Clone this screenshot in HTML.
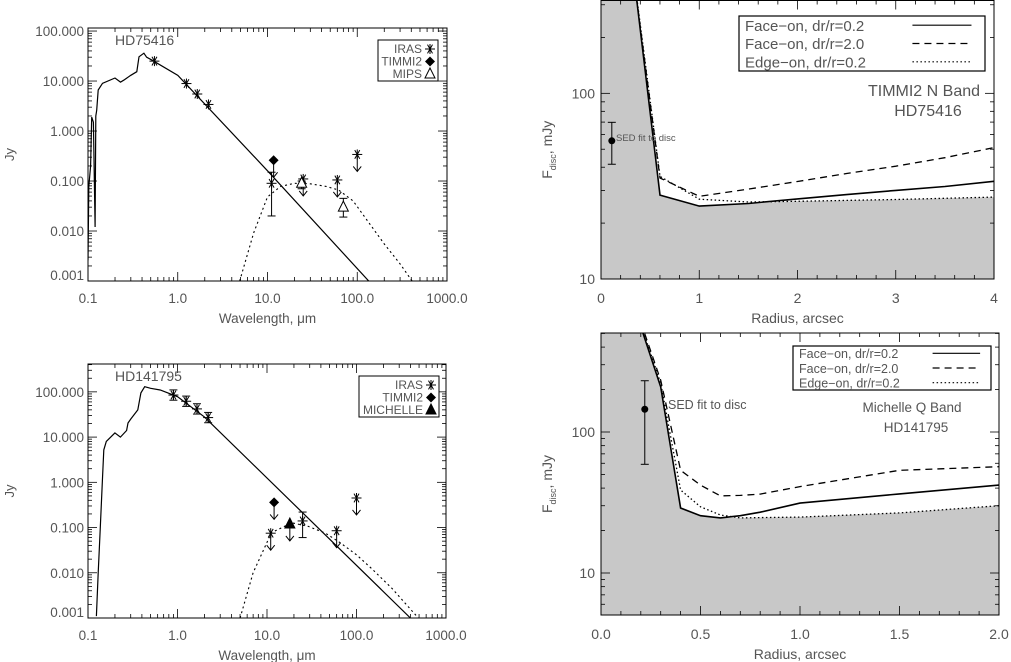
<!DOCTYPE html>
<html><head><meta charset="utf-8"><style>
html,body{margin:0;padding:0;background:#fff;}
svg{display:block;font-family:"Liberation Sans",sans-serif;}
text{fill:#555;}
</style></head><body>
<svg id="fig" width="1011" height="662" viewBox="0 0 1011 662" xmlns="http://www.w3.org/2000/svg"></svg>
<script>
// ---------- Panel 1 data (HD75416 SED) ----------
const p1StarWl   = [0.1,0.102,0.107,0.11,0.115,0.12,0.122,0.125,0.13,0.145,0.2,0.23,0.25,0.3,0.35,0.37,0.42,0.45,0.52,1.0,10,134];
const p1StarFlux = [0.0026,0.077,0.2,1.9,1.5,0.012,2.0,2.6,6.6,9,11.5,9.5,10.4,13,15.4,30.5,36,30,26,13,0.16,0.001];
const p1DiscWl   = [4.9,7,10,14,20,30,45,62,90,128,200,300,408];
const p1DiscFlux = [0.001,0.0091,0.048,0.078,0.09,0.088,0.078,0.066,0.04,0.0166,0.0055,0.0022,0.001];
const p1OptWl    = [0.55,1.25,1.65,2.2];
const p1OptFlux  = [25,8.9,5.5,3.4];
const p1IrasWl   = [11.1,25,60,100];
const p1IrasFlux = [0.09,0.11,0.105,0.34];
const p1IrasLim  = [false,true,true,true];
const p1TimWl    = [11.7];
const p1TimFlux  = [0.26];
const p1MipsWl   = [24,70];
const p1MipsFlux = [0.09,0.03];
const p1MipsLo   = [0.07,0.019];
const p1MipsHi   = [0.1,0.045];
// ---------- Panel 3 data (HD141795 SED) ----------
const p3StarWl   = [0.124,0.13,0.137,0.145,0.15,0.16,0.2,0.23,0.27,0.28,0.3,0.36,0.39,0.43,0.5,0.64,1.0,2.0,400];
const p3StarFlux = [0.0011,0.01,0.09,1.1,5.2,8,12.4,10,14,20.5,25,40,95,130,120,110,78,28,0.001];
const p3DiscWl   = [5,7,11.2,19,29,45,66,100,150,250,490];
const p3DiscFlux = [0.001,0.01,0.077,0.127,0.106,0.075,0.046,0.025,0.012,0.0045,0.001];
const p3OptWl    = [0.9,1.25,1.65,2.2];
const p3OptFlux  = [85,62,42,27];
const p3IrasWl   = [11,25,60,100];
const p3IrasFlux = [0.075,0.14,0.085,0.45];
const p3IrasLim  = [true,false,true,true];
const p3TimWl    = [12];
const p3TimFlux  = [0.36];
const p3MichWl   = [18];
const p3MichFlux = [0.12];
// ---------- Panel 2 data (TIMMI2 N band radial) ----------
const p2Radius = [0.36,0.6,1.0,1.5,2.0,2.5,3.0,3.5,4.0];
const p2Solid  = [330,28.3,24.7,25.5,27,28.5,30,31.5,33.6];
const p2Dashed = [330,35,27.9,30.5,33.5,37,40.5,45,51];
const p2Dotted = [340,35.7,26.9,26,26.2,26.5,26.8,27.2,27.6];
const p2PointR = [0.11];
const p2PointF = [55.5];
const p2PointLo= [41.5];
const p2PointHi= [69.8];
// ---------- Panel 4 data (Michelle Q band radial) ----------
const p4Radius = [0.2,0.3,0.4,0.5,0.6,0.7,0.8,1.0,1.5,2.0];
const p4Solid  = [560,209,28.9,25.5,24.6,25.5,27,31.3,36.4,42];
const p4Dashed = [600,233,53.5,42,35.2,35.5,36.3,41,53.5,56.7];
const p4Dotted = [580,222,38.8,29.5,25.8,24.6,24.7,24.9,26.7,30];
const p4PointR = [0.22];
const p4PointF = [145];
const p4PointLo= [59];
const p4PointHi= [231];

const NS='http://www.w3.org/2000/svg';
const svg=document.getElementById('fig');
function mk(tag,attrs,parent){const e=document.createElementNS(NS,tag);for(const k in attrs)e.setAttribute(k,attrs[k]);(parent||svg).appendChild(e);return e;}
const L=Math.log10;

function logScale(v0,v1,p0,p1){return v=>p0+(L(v)-L(v0))/(L(v1)-L(v0))*(p1-p0);}
function linScale(v0,v1,p0,p1){return v=>p0+(v-v0)/(v1-v0)*(p1-p0);}

function polyline(g,xs,ys,sx,sy,dash,name,w){
  const pts=xs.map((x,i)=>sx(x).toFixed(1)+','+sy(ys[i]).toFixed(1)).join(' ');
  const p=mk('polyline',{points:pts,fill:'none',stroke:'#000','stroke-width':w||1.2,'stroke-dasharray':dash||'none'},g);
  
  
  return p;
}
function text(g,x,y,s,size,anchor,name,extra){
  const t=mk('text',Object.assign({x:x,y:y,'font-size':size,'text-anchor':anchor||'start'},extra||{}),g);
  t.textContent=s;
  
  
  return t;
}
function frame(g,b){
  const r=mk('rect',{x:b.x0,y:b.y0,width:b.x1-b.x0,height:b.y1-b.y0,fill:'none',stroke:'#000','stroke-width':1},g);
  
  
}
function tick(g,x1,y1,x2,y2){mk('line',{x1:x1,y1:y1,x2:x2,y2:y2,stroke:'#000','stroke-width':0.8},g);}
function logTicksY(g,b,sy,lo,hi){
  for(let d=Math.floor(L(lo));d<=Math.ceil(L(hi));d++){for(let m=1;m<10;m++){const v=m*Math.pow(10,d);if(v<lo*0.999||v>hi*1.001)continue;const y=sy(v);const len=m==1?9:4;tick(g,b.x0,y,b.x0+len,y);tick(g,b.x1,y,b.x1-len,y);}}
}
function logTicksX(g,b,sx,lo,hi){
  for(let d=Math.floor(L(lo));d<=Math.ceil(L(hi));d++){for(let m=1;m<10;m++){const v=m*Math.pow(10,d);if(v<lo*0.999||v>hi*1.001)continue;const x=sx(v);const len=m==1?9:4;tick(g,x,b.y1,x,b.y1-len);tick(g,x,b.y0,x,b.y0+len);}}
}
function linTicksX(g,b,sx,lo,hi,step,nminor){
  const n=Math.round((hi-lo)/step*nminor);
  for(let i=0;i<=n;i++){const v=lo+i*step/nminor;const x=sx(v);const len=i%nminor==0?9:4;tick(g,x,b.y1,x,b.y1-len);tick(g,x,b.y0,x,b.y0+len);}
}
function asterisk(g,x,y,name){
  const gg=mk('g',{stroke:'#000','stroke-width':1},g);
  
  
  const r=5;
  for(const a of [0,60,120]){const c=Math.cos(a*Math.PI/180)*r,s=Math.sin(a*Math.PI/180)*r;mk('line',{x1:x-c,y1:y-s,x2:x+c,y2:y+s},gg);}
  mk('line',{x1:x,y1:y-r,x2:x,y2:y+r},gg);
}
function arrow(g,x,y){
  mk('line',{x1:x,y1:y,x2:x,y2:y+17,stroke:'#000','stroke-width':1},g);
  mk('polyline',{points:(x-4)+','+(y+12)+' '+x+','+(y+17)+' '+(x+4)+','+(y+12),fill:'none',stroke:'#000','stroke-width':1},g);
}
function errbar(g,x,y0,y1){
  mk('line',{x1:x,y1:y0,x2:x,y2:y1,stroke:'#000','stroke-width':1},g);
  mk('line',{x1:x-4,y1:y0,x2:x+4,y2:y0,stroke:'#000','stroke-width':1},g);
  mk('line',{x1:x-4,y1:y1,x2:x+4,y2:y1,stroke:'#000','stroke-width':1},g);
}
function diamond(g,x,y,name){const p=mk('polygon',{points:`${x},${y-5} ${x+5},${y} ${x},${y+5} ${x-5},${y}`,fill:'#000'},g);}
function triangle(g,x,y,fill,name){const p=mk('polygon',{points:`${x},${y-6} ${x+5},${y+4} ${x-5},${y+4}`,fill:fill,stroke:'#000','stroke-width':1},g);}

function sedPanel(id,b,ymax,title,star,disc,opt,iras,tim,extra,legendRows,legendBox){
  const g=mk('g',{});  
  const sx=logScale(0.1,1000,b.x0,b.x1), sy=logScale(0.001,ymax,b.y1,b.y0);
  const cid=id+'-clip'; const cp=mk('clipPath',{id:cid},g); mk('rect',{x:b.x0,y:b.y0,width:b.x1-b.x0,height:b.y1-b.y0},cp);
  const dg=mk('g',{'clip-path':`url(#${cid})`},g);
  polyline(dg,star[0],star[1],sx,sy,null,'photosphere-model',1.2);
  polyline(dg,disc[0],disc[1],sx,sy,'2,3','disc-model',1.1);
  opt[0].forEach((w,i)=>asterisk(dg,sx(w),sy(opt[1][i]),'optical-photometry-point'));
  if(opt[2]) opt[0].forEach((w,i)=>errbar(dg,sx(w),sy(opt[1][i]*1.3),sy(opt[1][i]/1.3)));
  iras[0].forEach((w,i)=>{const x=sx(w),y=sy(iras[1][i]);asterisk(dg,x,y,'iras-point');if(iras[2][i])arrow(dg,x,y);});
  tim[0].forEach((w,i)=>{const x=sx(w),y=sy(tim[1][i]);diamond(dg,x,y,'timmi2-point');arrow(dg,x,y);});
  extra(dg,sx,sy);
  frame(g,b);
  logTicksY(g,b,sy,0.001,ymax); logTicksX(g,b,sx,0.1,1000);
  ['0.001','0.010','0.100','1.000','10.000','100.000'].forEach((s,i)=>{let y=sy(Math.pow(10,i-3))+5; if(i==0)y=b.y1-1; text(g,b.x0-4,y,s,13.5,'end','y-tick-label');});
  ['0.1','1.0','10.0','100.0','1000.0'].forEach((s,i)=>text(g,sx(Math.pow(10,i-1)),b.y1+22,s,13.5,'middle','x-tick-label'));
  text(g,(b.x0+b.x1)/2,b.y1+42,'Wavelength, μm',13.5,'middle','x-axis-title');
  text(g,14,(b.y0+b.y1)/2,'Jy',13,'middle','y-axis-title',{transform:`rotate(-90 14 ${(b.y0+b.y1)/2})`});
  text(g,b.x0+27,b.y0+17,title,14,'start','star-name-label');
  const lb=mk('rect',{x:legendBox[0],y:legendBox[1],width:legendBox[2],height:legendBox[3],fill:'#fff',stroke:'#000','stroke-width':1},g);
   
  legendRows.forEach((r,i)=>{const y=legendBox[1]+9+i*12.5;text(g,legendBox[0]+legendBox[2]-16,y+4,r[0],12,'end','legend-entry');r[1](g,legendBox[0]+legendBox[2]-8,y);});
}

sedPanel('sed-hd75416',{x0:88,y0:28,x1:447,y1:281},115,'HD75416',
  [p1StarWl,p1StarFlux],[p1DiscWl,p1DiscFlux],[p1OptWl,p1OptFlux,false],[p1IrasWl,p1IrasFlux,p1IrasLim],[p1TimWl,p1TimFlux],
  (g,sx,sy)=>{
    errbar(g,sx(11.1),sy(0.15),sy(0.02));
    p1MipsWl.forEach((w,i)=>{errbar(g,sx(w),sy(p1MipsHi[i]),sy(p1MipsLo[i]));triangle(g,sx(w),sy(p1MipsFlux[i]),'#fff','mips-point');});
  },
  [['IRAS',(g,x,y)=>asterisk(g,x,y,'legend-iras-symbol')],['TIMMI2',(g,x,y)=>diamond(g,x,y,'legend-timmi2-symbol')],['MIPS',(g,x,y)=>triangle(g,x,y,'#fff','legend-mips-symbol')]],
  [378,40,60,41]);

sedPanel('sed-hd141795',{x0:88,y0:364,x1:446,y1:618},413,'HD141795',
  [p3StarWl,p3StarFlux],[p3DiscWl,p3DiscFlux],[p3OptWl,p3OptFlux,true],[p3IrasWl,p3IrasFlux,p3IrasLim],[p3TimWl,p3TimFlux],
  (g,sx,sy)=>{
    errbar(g,sx(25),sy(0.22),sy(0.06));
    p3MichWl.forEach((w,i)=>{const x=sx(w),y=sy(p3MichFlux[i]);triangle(g,x,y,'#000','michelle-point');arrow(g,x,y);});
  },
  [['IRAS',(g,x,y)=>asterisk(g,x,y,'legend-iras-symbol')],['TIMMI2',(g,x,y)=>diamond(g,x,y,'legend-timmi2-symbol')],['MICHELLE',(g,x,y)=>triangle(g,x,y,'#000','legend-michelle-symbol')]],
  [359,376,80,41]);

function radialPanel(id,b,xmax,xstep,nminor,yminV,ymaxV,R,S,D,T,pt,xlabels,legendBox,lfs,band,star,bandPos,sedLab){
  const g=mk('g',{});  
  const sx=linScale(0,xmax,b.x0,b.x1), sy=logScale(yminV,ymaxV,b.y1,b.y0);
  const cid=id+'-clip'; const cp=mk('clipPath',{id:cid},g); mk('rect',{x:b.x0,y:b.y0,width:b.x1-b.x0,height:b.y1-b.y0},cp);
  const dg=mk('g',{'clip-path':`url(#${cid})`},g);
  const minv=R.map((r,i)=>Math.min(S[i],D[i],T[i]));
  let pts=`${b.x0},${b.y0-5} `+R.map((r,i)=>sx(r).toFixed(1)+','+sy(minv[i]).toFixed(1)).join(' ')+` ${sx(R[R.length-1])},${b.y1} ${b.x0},${b.y1}`;
  pts=`${b.x0},${b.y0-5} ${sx(R[0])},${b.y0-5} `+pts.split(' ').slice(1).join(' ');
  const f=mk('polygon',{points:pts,fill:'#c8c8c8'},dg);  
  polyline(dg,R,D,sx,sy,'7,5','face-on-dr2-curve',1.3);
  polyline(dg,R,T,sx,sy,'1.5,2.5','edge-on-curve',1.3);
  polyline(dg,R,S,sx,sy,null,'face-on-dr02-curve',1.6);
  pt[0].forEach((r,i)=>{errbar(dg,sx(r),sy(pt[2][i]),sy(pt[1][i]));const c=mk('circle',{cx:sx(r),cy:sy(pt[3][i]),r:3.5,fill:'#000'},dg);});
  frame(g,b);
  logTicksY(g,b,sy,yminV,ymaxV); linTicksX(g,b,sx,0,xmax,xstep,nminor);
  text(g,b.x0-6,sy(10)+5,'10',14,'end','y-tick-label');
  text(g,b.x0-6,sy(100)+5,'100',14,'end','y-tick-label');
  xlabels.forEach((s,i)=>text(g,sx(i*xstep),b.y1+24,s,14,'middle','x-tick-label'));
  text(g,(b.x0+b.x1)/2,b.y1+44,'Radius, arcsec',14,'middle','x-axis-title');
  const cy=(b.y0+b.y1)/2+10;
  const yt=text(g,552,cy,'',14,'middle','y-axis-title',{transform:`rotate(-90 552 ${cy})`});
  yt.innerHTML='F<tspan font-size="9" dy="4">disc</tspan><tspan dy="-4">, mJy</tspan>';
  text(g,sedLab[0],sedLab[1],'SED fit to disc',sedLab[2],'start','sed-fit-label');
  text(g,bandPos[0],bandPos[1],band,lfs+1,'middle','band-label');
  text(g,bandPos[0]+4,bandPos[1]+20,star,lfs+1,'middle','star-name-label');
  const lb=mk('rect',{x:legendBox[0],y:legendBox[1],width:legendBox[2],height:legendBox[3],fill:'#fff',stroke:'#000','stroke-width':1.2},g);
   
  const rows=[['Face−on, dr/r=0.2',null],['Face−on, dr/r=2.0','7,5'],['Edge−on, dr/r=0.2','1.5,2.5']];
  const rh=legendBox[3]/3;
  rows.forEach((r,i)=>{const y=legendBox[1]+rh*(i+0.5);text(g,legendBox[0]+6,y+lfs*0.38,r[0],lfs,'start','legend-entry');
    const l=mk('line',{x1:legendBox[0]+legendBox[2]*0.705,y1:y,x2:legendBox[0]+legendBox[2]*0.945,y2:y,stroke:'#000','stroke-width':1.2,'stroke-dasharray':r[1]||'none'},g);
     });
}

radialPanel('radial-timmi2',{x0:601,y0:0.5,x1:994,y1:279},4,1,5,10,10*Math.pow(10,279/186),
  p2Radius,p2Solid,p2Dashed,p2Dotted,[p2PointR,p2PointLo,p2PointHi,p2PointF],['0','1','2','3','4'],
  [739,16,246,55],15,'TIMMI2 N Band','HD75416',[924,96],[616,141,9.5]);

radialPanel('radial-michelle',{x0:601,y0:333,x1:999,y1:615},2,0.5,5,10*Math.pow(10,-42/141),10*Math.pow(10,240/141),
  p4Radius,p4Solid,p4Dashed,p4Dotted,[p4PointR,p4PointLo,p4PointHi,p4PointF],['0.0','0.5','1.0','1.5','2.0'],
  [793,346,198,44],12.5,'Michelle Q Band','HD141795',[912,412],[668,409,12.5]);
</script>
</body></html>
